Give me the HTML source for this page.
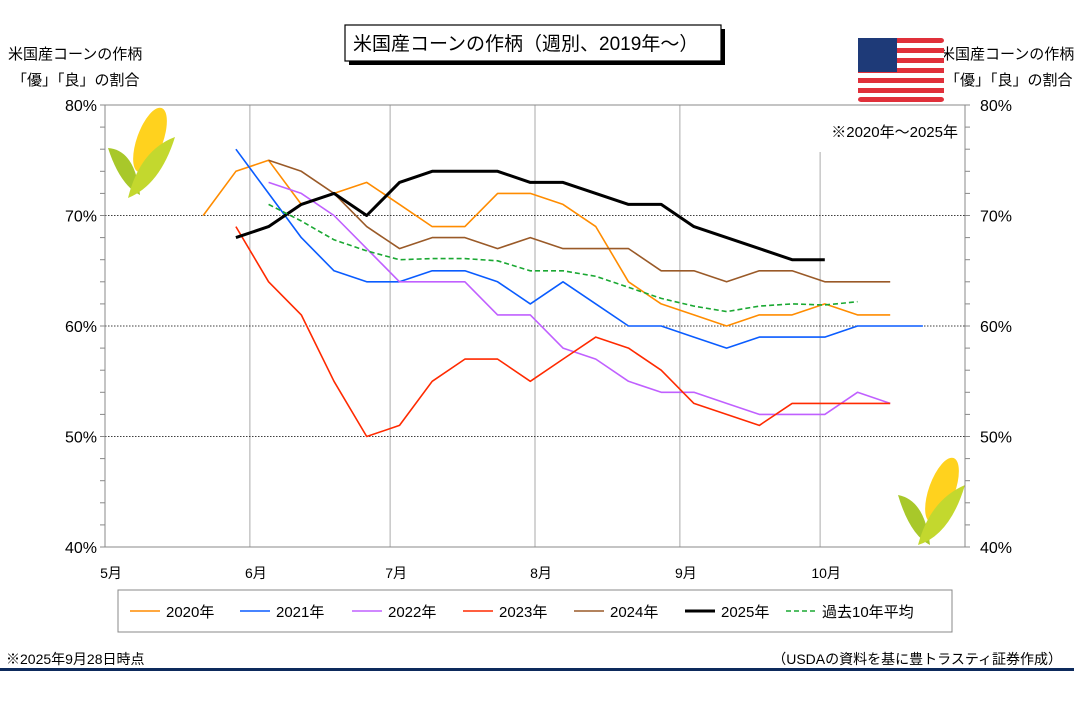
<!DOCTYPE html>
<html><head><meta charset="utf-8"><style>
body{margin:0;background:#fff;}
svg text{font-family:"Liberation Sans","Noto Sans CJK JP",sans-serif;}
</style></head><body>
<svg width="1074" height="707" viewBox="0 0 1074 707" xmlns="http://www.w3.org/2000/svg">
<rect width="1074" height="707" fill="#fff"/>
<g>
<rect x="349" y="29" width="376" height="36" fill="#000"/>
<rect x="345" y="25" width="376" height="36" fill="#fff" stroke="#000" stroke-width="1.2"/>
<text x="353" y="50" font-size="19">米国産コーンの作柄（週別、2019年～）</text>
</g>
<text x="8" y="59" font-size="15">米国産コーンの作柄</text>
<text x="12" y="85" font-size="15">「優」「良」の割合</text>
<text x="940" y="59" font-size="15">米国産コーンの作柄</text>
<text x="945" y="85" font-size="15">「優」「良」の割合</text>
<g>
<rect x="858" y="38" width="86" height="64" rx="6" fill="#fff"/>
<g fill="#e0303a">
<rect x="858" y="38" width="86" height="5" rx="3"/><rect x="858" y="48" width="86" height="5"/><rect x="858" y="58" width="86" height="5"/><rect x="858" y="68" width="86" height="5"/><rect x="858" y="78" width="86" height="5"/><rect x="858" y="88" width="86" height="5"/><rect x="858" y="97" width="86" height="5" rx="3"/>
</g>
<rect x="858" y="38" width="39" height="34" fill="#1e3a78"/>
</g>
<g id="corn1">
<ellipse cx="150" cy="140" rx="13" ry="34" transform="rotate(20 150 140)" fill="#ffd21e"/>
<path d="M108 148 Q135 150 140 195 Q120 185 108 148Z" fill="#a8c82a"/>
<path d="M175 137 Q140 150 128 198 Q160 185 175 137Z" fill="#c3d82e"/>
</g>
<g>
<ellipse cx="942" cy="490" rx="13" ry="34" transform="rotate(20 942 490)" fill="#ffd21e"/>
<path d="M898 495 Q925 500 930 545 Q910 535 898 495Z" fill="#a8c82a"/>
<path d="M965 485 Q930 500 918 545 Q950 535 965 485Z" fill="#c3d82e"/>
</g>
<g id="chart"></g>
<g>
<rect x="118" y="590" width="834" height="42" fill="#fff" stroke="#888"/>
<g id="legend-items"></g>
</g>
<text x="6" y="664" font-size="14">※2025年9月28日時点</text>
<text x="1062" y="664" font-size="14" text-anchor="end">（USDAの資料を基に豊トラスティ証券作成）</text>
<rect x="0" y="668" width="1074" height="3" fill="#0d2a5c"/>
</svg>
<script>
const monthLabels=["5月","6月","7月","8月","9月","10月"];
const monthDays=[0,31,61,92,123,153];
const yTicks=[40,50,60,70,80];
const seriesNames=["2020年","2021年","2022年","2023年","2024年","2025年","過去10年平均"];
const seriesStart=[21,28,35,28,35,28,35];
const s2020=[70,74,75,71,72,73,71,69,69,72,72,71,69,64,62,61,60,61,61,62,61,61];
const s2021=[76,72,68,65,64,64,65,65,64,62,64,62,60,60,59,58,59,59,59,60,60,60];
const s2022=[73,72,70,67,64,64,64,61,61,58,57,55,54,54,53,52,52,52,54,53];
const s2023=[69,64,61,55,50,51,55,57,57,55,57,59,58,56,53,52,51,53,53,53,53];
const s2024=[75,74,72,69,67,68,68,67,68,67,67,67,65,65,64,65,65,64,64,64];
const s2025=[68,69,71,72,70,73,74,74,74,73,73,72,71,71,69,68,67,66,66];
const sAvg=[71,69.5,67.8,66.8,66,66.1,66.1,65.9,65,65,64.5,63.5,62.5,61.8,61.3,61.8,62,61.9,62.2];
const allSeries=[s2020,s2021,s2022,s2023,s2024,s2025,sAvg];
const colors=["#ff8c00","#0a5cff","#c060ff","#ff2a00","#9a5a28","#000","#1aa832"];
const widths=[1.6,1.6,1.6,1.6,1.6,3,1.6];
const NS="http://www.w3.org/2000/svg";
const X0=105,X1=965,Y0=547,Y1=105;
const xs=d=>X0+d*(X1-X0)/184;
const ys=v=>Y0-(v-40)*(Y0-Y1)/40;
const g=document.getElementById('chart');
function mk(t,a,p){const e=document.createElementNS(NS,t);for(const k in a)e.setAttribute(k,a[k]);(p||g).appendChild(e);return e;}
// vertical month grid
monthDays.forEach((d,i)=>{
  if(i>0){const l=mk('line',{x1:xs(d),x2:xs(d),y1:i==5?152:Y1,y2:Y0,stroke:'#aaa','stroke-width':1});
  
  }
  const t=mk('text',{x:xs(d)+6,y:Y0+31,'font-size':14,'text-anchor':'middle'});t.textContent=monthLabels[i];
  
  
});
// horizontal grid + ticks
yTicks.forEach(v=>{
  if(v>40&&v<80){const l=mk('line',{x1:X0,x2:X1,y1:ys(v),y2:ys(v),stroke:'#000','stroke-width':0.8,'stroke-dasharray':'1.5,1.5'});
  
  }
  const t=mk('text',{x:X0-8,y:ys(v)+6,'font-size':16,'text-anchor':'end'});t.textContent=v+'%';
  
  
  const t2=mk('text',{x:X1+15,y:ys(v)+6,'font-size':16});t2.textContent=v+'%';
  
  
});
for(let v=40;v<=80;v+=2){
  mk('line',{x1:X0-5,x2:X0,y1:ys(v),y2:ys(v),stroke:'#888'});
  mk('line',{x1:X1,x2:X1+5,y1:ys(v),y2:ys(v),stroke:'#888'});
}
const box=mk('rect',{x:X0,y:Y1,width:X1-X0,height:Y0-Y1,fill:'none',stroke:'#888'});


const note=mk('text',{x:958,y:137,'font-size':15,'text-anchor':'end'});note.textContent='※2020年～2025年';


allSeries.forEach((s,i)=>{
  const pts=s.map((v,j)=>xs(seriesStart[i]+7*j).toFixed(1)+','+ys(v).toFixed(1)).join(' ');
  const a={points:pts,fill:'none',stroke:colors[i],'stroke-width':widths[i],'stroke-linejoin':'round'};
  if(i==6)a['stroke-dasharray']='5,3';
  const p=mk('polyline',a);
  
  
});
const lg=document.getElementById('legend-items');
const lx=[130,240,352,463,574,685,786];
seriesNames.forEach((n,i)=>{
  const a={x1:lx[i],x2:lx[i]+30,y1:611,y2:611,stroke:colors[i],'stroke-width':widths[i]};
  if(i==6)a['stroke-dasharray']='5,3';
  const l=mk('line',a,lg);
  
  
  const t=mk('text',{x:lx[i]+36,y:617,'font-size':15},lg);t.textContent=n;
  
  
});
</script>
</body></html>
